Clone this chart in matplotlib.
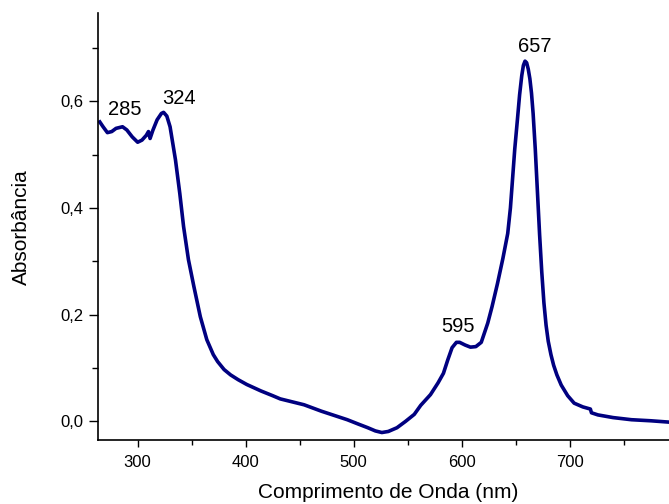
import matplotlib.pyplot as plt
from matplotlib.ticker import MultipleLocator, FuncFormatter

plt.rcParams['font.family'] = ['Liberation Sans', 'DejaVu Sans']

# UV-Vis spectrum (wavelength in nm, absorbance)
wavelength = [265, 268, 272, 276, 280, 286, 290, 295, 300, 304, 308, 310, 311.5,
              314, 318, 322, 324, 327, 330, 335, 339, 342.5, 347, 352, 358, 364,
              370, 374, 380, 386, 393, 401, 414, 425, 432, 444, 454, 462, 470,
              482, 494, 504, 513, 520, 526, 532, 540, 548, 556, 562, 571, 578,
              583, 587, 591, 595, 598, 603, 608, 613, 618, 624, 628, 633, 638,
              642.5, 645, 647, 649, 651.5, 653.5, 655.5, 657, 658.5, 660, 661.5,
              663, 664.5, 666, 668, 670, 672, 674, 676, 678, 680, 682.5, 685,
              688, 692, 698, 704, 712, 719, 720, 726, 740, 757, 775, 795]
absorbance = [0.561, 0.552, 0.541, 0.543, 0.549, 0.552, 0.546, 0.533, 0.523, 0.527,
              0.536, 0.543, 0.530, 0.545, 0.565, 0.577, 0.579, 0.572, 0.552, 0.490,
              0.427, 0.365, 0.303, 0.253, 0.196, 0.153, 0.125, 0.112, 0.097, 0.087,
              0.078, 0.069, 0.057, 0.048, 0.042, 0.036, 0.031, 0.025, 0.019, 0.011,
              0.003, -0.005, -0.012, -0.018, -0.021, -0.019, -0.012, 0.000, 0.013,
              0.030, 0.050, 0.072, 0.090, 0.115, 0.138, 0.148, 0.148, 0.143, 0.139,
              0.140, 0.148, 0.184, 0.215, 0.258, 0.305, 0.352, 0.400, 0.455, 0.510,
              0.566, 0.612, 0.648, 0.667, 0.675, 0.672, 0.660, 0.642, 0.615, 0.577,
              0.510, 0.430, 0.350, 0.280, 0.222, 0.180, 0.150, 0.125, 0.105, 0.087,
              0.068, 0.048, 0.034, 0.027, 0.023, 0.016, 0.012, 0.007, 0.003, 0.001,
              -0.002]

# peak annotations: label, x, baseline y
peak_labels = ['285', '324', '595', '657']
peak_x = [288, 338.5, 596.7, 667.5]
peak_y = [0.574, 0.594, 0.168, 0.692]

fig = plt.figure(figsize=(6.69, 5.04), dpi=100)
ax = fig.add_axes([0.146, 0.127, 0.856, 0.847])

ax.plot(wavelength, absorbance, color='#000080', linewidth=2.6)

for lab, px, py in zip(peak_labels, peak_x, peak_y):
    ax.text(px, py, lab, fontsize=14.5, ha='center', va='baseline', color='black')

ax.set_xlim(263, 793)
ax.set_ylim(-0.035, 0.765)

ax.xaxis.set_major_locator(MultipleLocator(100))
ax.xaxis.set_minor_locator(MultipleLocator(50))
ax.yaxis.set_major_locator(MultipleLocator(0.2))
ax.yaxis.set_minor_locator(MultipleLocator(0.1))
ax.yaxis.set_major_formatter(FuncFormatter(lambda v, p: f'{v:.1f}'.replace('.', ',')))

for s in ['top', 'right']:
    ax.spines[s].set_visible(False)
for s in ['left', 'bottom']:
    ax.spines[s].set_linewidth(1.2)

ax.tick_params(axis='y', which='major', length=6.5, width=1.0, pad=4, labelsize=12)
ax.tick_params(axis='y', which='minor', length=4.3, width=1.0)
ax.tick_params(axis='x', which='major', length=5, width=1.0, pad=6, labelsize=12)
ax.tick_params(axis='x', which='minor', length=3.5, width=1.0)

ax.set_xlabel('Comprimento de Onda (nm)', fontsize=15)
ax.set_ylabel('Absorbância', fontsize=15, va='center')
ax.xaxis.set_label_coords(0.507, -0.100)
ax.yaxis.set_label_coords(-0.133, 0.499)

fig.savefig('out.png', dpi=100)
